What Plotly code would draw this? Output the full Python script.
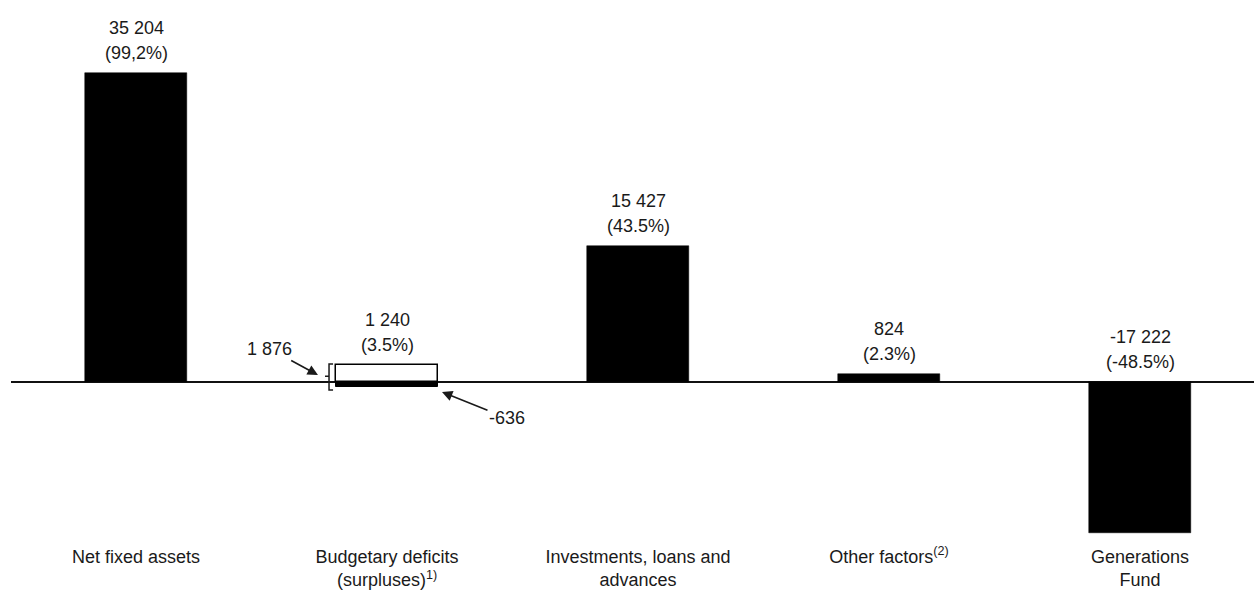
import plotly.graph_objects as go

# ---- data ----
categories = ["Net fixed assets", "Budgetary deficits<br>(surpluses)<sup>1)</sup>",
              "Investments, loans and<br>advances", "Other factors<sup>(2)</sup>",
              "Generations<br>Fund"]
values = [35204, 1240, 15427, 824, -17222]
value_labels = ["35 204", "1 240", "15 427", "824", "-17 222"]
pct_labels = ["(99,2%)", "(3.5%)", "(43.5%)", "(2.3%)", "(-48.5%)"]
budget_deficits = 1876
budget_surpluses = -636
budget_deficits_label = "1 876"
budget_surpluses_label = "-636"

FONT = "Liberation Sans Narrow, Arial Narrow, Liberation Sans, Arial, sans-serif"
FS = 18
TXT = "#1a1a1a"
W = 0.406
xs = list(range(len(categories)))
BUD = 1

fig = go.Figure()
main_x = [x for x in xs if x != BUD]
main_y = [values[x] for x in main_x]
fig.add_trace(go.Bar(x=main_x, y=main_y, width=W, marker=dict(color="black", line=dict(color="black", width=0.5)),
                     hoverinfo="skip", showlegend=False))
fig.add_trace(go.Bar(x=[BUD], y=[budget_deficits], width=W,
                     marker=dict(color="white", line=dict(color="black", width=1.5)),
                     hoverinfo="skip", showlegend=False))
fig.add_trace(go.Bar(x=[BUD], y=[budget_surpluses], width=W,
                     marker=dict(color="black", line=dict(color="black", width=1)),
                     hoverinfo="skip", showlegend=False))

ann = []
for i in xs:
    top = budget_deficits if i == BUD else max(values[i], 0)
    # percentage line
    ann.append(dict(x=i, y=top, xref="x", yref="y", text=pct_labels[i],
                    showarrow=False, yanchor="bottom", yshift=8,
                    font=dict(family=FONT, size=FS, color=TXT)))
    # value line
    ann.append(dict(x=i, y=top, xref="x", yref="y", text=value_labels[i],
                    showarrow=False, yanchor="bottom", yshift=33,
                    font=dict(family=FONT, size=FS, color=TXT)))

# arrows for budget components
ann.append(dict(x=BUD - W / 2 - 0.072, y=budget_deficits * 0.41, xref="x", yref="y",
                text=budget_deficits_label, showarrow=True, ax=-48, ay=-26,
                arrowhead=2, arrowsize=1.3, arrowwidth=1.6, arrowcolor=TXT,
                font=dict(family=FONT, size=FS, color=TXT)))
ann.append(dict(x=BUD + W / 2 + 0.016, y=budget_surpluses * 1.85, xref="x", yref="y",
                text=budget_surpluses_label, showarrow=True, ax=65, ay=26,
                arrowhead=2, arrowsize=1.3, arrowwidth=1.6, arrowcolor=TXT,
                font=dict(family=FONT, size=FS, color=TXT)))

# bracket
bx = BUD - W / 2 - 0.028
btop = budget_deficits * 1.075
bbot = budget_surpluses * 1.49
bmid = (budget_deficits + budget_surpluses) / 2
path = (f"M {bx+0.016},{btop} L {bx},{btop} L {bx},{bbot} L {bx+0.016},{bbot} "
        f"M {bx},{bmid} L {bx-0.016},{bmid}")
shapes = [dict(type="path", path=path, xref="x", yref="y", line=dict(color=TXT, width=1.5))]

fig.update_layout(
    width=1254, height=610,
    margin=dict(l=11, r=0, t=0, b=70),
    plot_bgcolor="white", paper_bgcolor="white",
    barmode="relative", bargap=0,
    annotations=ann, shapes=shapes,
    xaxis=dict(range=[-0.498, 4.454], tickmode="array", tickvals=xs, ticktext=categories,
               showgrid=False, zeroline=False, showline=False, ticks="", ticklabelstandoff=4,
               tickfont=dict(family=FONT, size=FS, color=TXT), fixedrange=True),
    yaxis=dict(range=[-18050, 43524], showgrid=False, showticklabels=False, ticks="",
               zeroline=True, zerolinecolor="#111", zerolinewidth=1.5, showline=False, fixedrange=True),
    showlegend=False,
)
fig.write_html("out.html", config={"displayModeBar": False})
